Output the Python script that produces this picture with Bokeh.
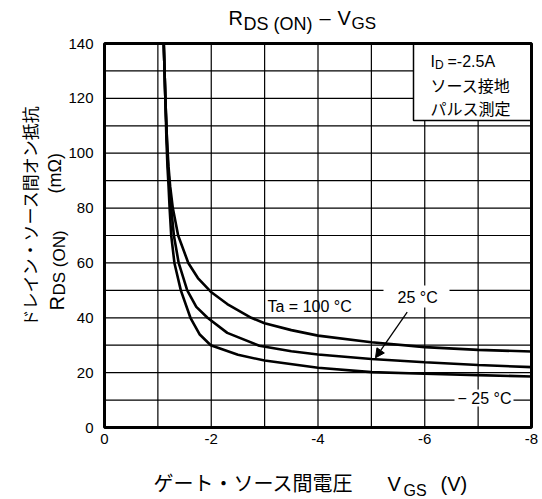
import math
from bokeh.plotting import figure
from bokeh.models import Range1d, Label, Arrow, NormalHead
from bokeh.embed import file_html
from bokeh.resources import INLINE
from bokeh.core.properties import value

# ---------------- data ----------------
vgs_100 = [-1.11, -1.14, -1.17, -1.20, -1.23, -1.28, -1.38, -1.57, -1.75, -1.99,
           -2.3, -2.75, -3.0, -3.5, -4.0, -5.0, -6.0, -7.0, -8.0]
rds_100 = [140, 120, 105, 95, 88, 80, 70, 60, 54.5, 49.5,
           45, 40, 38, 35.5, 33.5, 31.1, 29.3, 28.3, 27.7]

vgs_25 = [-1.11, -1.14, -1.17, -1.19, -1.22, -1.25, -1.30, -1.39, -1.55, -1.72,
          -1.93, -2.3, -2.9, -3.5, -4.0, -5.0, -6.0, -7.0, -8.0]
rds_25 = [140, 120, 105, 95, 88, 80, 70, 60, 50, 44,
          40, 34.5, 29.8, 27.8, 26.6, 25.0, 23.8, 22.8, 22.0]

vgs_m25 = [-1.11, -1.14, -1.16, -1.18, -1.20, -1.22, -1.25, -1.31, -1.43, -1.61,
           -1.78, -1.99, -2.5, -3.0, -4.0, -5.0, -6.0, -7.0, -8.0]
rds_m25 = [140, 120, 105, 95, 88, 80, 70, 60, 50, 40,
           34, 30, 26.5, 24.4, 21.8, 20.2, 19.6, 19.1, 18.6]

x_ticks = [0, -2, -4, -6, -8]
x_tick_labels = ["0", "-2", "-4", "-6", "-8"]
y_ticks = [0, 20, 40, 60, 80, 100, 120, 140]
y_tick_labels = ["0", "20", "40", "60", "80", "100", "120", "140"]

# ---------------- layout constants (pixels in the picture) ----------------
LAT = "Liberation Sans"
CJK = "Noto Sans CJK JP"
W, H = 542, 499
PL, PR, PT, PB = 104, 531, 43, 427   # plot box edges

X0, X1 = x_ticks[0], x_ticks[-1]
Y0, Y1 = y_ticks[0], y_ticks[-1]


def dx(px):
    return X0 + (px - PL) / (PR - PL) * (X1 - X0)


def dy(py):
    return Y1 - (py - PT) / (PB - PT) * (Y1 - Y0)


p = figure(width=W, height=H,
           x_range=Range1d(dx(0), dx(W)), y_range=Range1d(dy(H), dy(0)),
           x_axis_location=None, y_axis_location=None,
           output_backend="svg", toolbar_location=None,
           min_border=0, min_border_left=0, min_border_right=0,
           min_border_top=0, min_border_bottom=0)
p.title = None
p.grid.visible = False
p.outline_line_color = None
p.background_fill_color = "white"
p.border_fill_color = "white"

# ---------------- grid ----------------
x_minor = [(a + b) / 2 for a, b in zip(x_ticks[:-1], x_ticks[1:])]
y_minor = [(a + b) / 2 for a, b in zip(y_ticks[:-1], y_ticks[1:])]
gx = sorted(x_ticks[1:-1] + x_minor)
gy = sorted(y_ticks[1:-1] + y_minor)
p.segment(x0=gx, y0=[Y0] * len(gx), x1=gx, y1=[Y1] * len(gx),
          line_color="black", line_width=1.2)
p.segment(x0=[X0] * len(gy), y0=gy, x1=[X1] * len(gy), y1=gy,
          line_color="black", line_width=1.2)

# tick labels
p.text(x=x_ticks, y=[dy(438)] * len(x_ticks), text=x_tick_labels,
       text_align="center", text_baseline="middle",
       text_font=value(LAT), text_font_size="15px", text_color="black")
p.text(x=[dx(93)] * len(y_ticks), y=y_ticks, text=y_tick_labels,
       text_align="right", text_baseline="middle",
       text_font=value(LAT), text_font_size="15px", text_color="black")

# ---------------- curves ----------------
for vx, ry in ((vgs_100, rds_100), (vgs_25, rds_25), (vgs_m25, rds_m25)):
    p.line(vx, ry, line_color="black", line_width=2.6)

# white label backgrounds
p.quad(left=[dx(383), dx(454)], right=[dx(449), dx(513)],
       top=[dy(285), dy(389)], bottom=[dy(307), dy(406)],
       fill_color="white", line_color=None)
# condition box
p.quad(left=[dx(413)], right=[X1], top=[Y1], bottom=[dy(120)],
       fill_color="white", line_color="black", line_width=1.5)
# plot frame
p.quad(left=[X0], right=[X1], top=[Y1], bottom=[Y0],
       fill_color=None, line_color="black", line_width=3)


def lab(txt, px, py, size, font=LAT, angle=0.0, align="left"):
    p.add_layout(Label(x=dx(px), y=dy(py), text=txt, text_font=font,
                       text_font_size=f"{size}px", text_align=align,
                       text_baseline="middle", angle=angle, text_color="black"))


# title: R_DS (ON) – V_GS   (positions are text centre lines)
lab("R", 228, 17.5, 20)
lab("DS (ON)", 243, 23, 18)
lab("\u2013", 319, 17.5, 20)
lab("V", 337, 17.5, 20)
lab("GS", 351, 23, 17)

# condition box texts
lab("I", 430, 61, 16)
lab("D", 434.5, 64, 12)
lab("=-2.5A", 447, 61, 16)
lab("ソース接地", 430, 84.5, 16, font=CJK)
lab("パルス測定", 430, 107, 16, font=CJK)

# curve annotations
lab("Ta = 100 °C", 267, 306, 16)
lab("25 °C", 397, 296.5, 16)
lab("\u2212 25 °C", 457, 397.5, 16)
p.add_layout(Arrow(x_start=dx(406.7), y_start=dy(311.7), x_end=dx(375), y_end=dy(357.3),
                   line_color="black", line_width=1.3,
                   end=NormalHead(size=9, fill_color="black", line_color="black", line_width=1)))

# x axis label
lab("ゲート・ソース間電圧", 153, 482, 20, font=CJK)
lab("V", 387, 483.5, 20)
lab("GS", 403, 490, 16)
lab("(V)", 440, 483.5, 20)

# y axis label (two rotated lines)
A = math.pi / 2
lab("ドレイン・ソース間オン抵抗", 29, 326, 17, font=CJK, angle=A)
lab("R", 56, 310, 20, angle=A)
lab("DS (ON)", 59, 295, 17, angle=A)
lab("(mΩ)", 54, 193, 18, angle=A)

open("out.html", "w").write(file_html(p, INLINE))
